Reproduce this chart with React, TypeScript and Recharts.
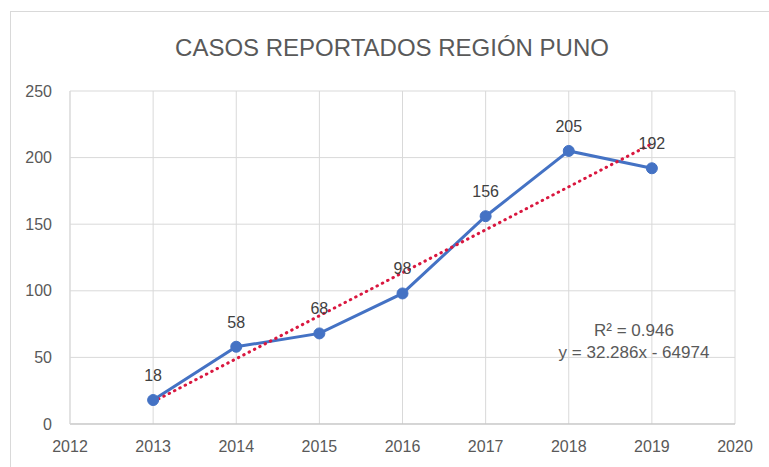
import React from "react";
import { LineChart, Line, XAxis, YAxis, CartesianGrid, LabelList } from "recharts";

const years = [2013, 2014, 2015, 2016, 2017, 2018, 2019];
const cases = [18, 58, 68, 98, 156, 205, 192];
// linear trendline values read at its two ends (2013 and 2019)
const trendYears = [2013, 2019];
const trendValues = [16.7, 210.4];
const xTicks = [2012, 2013, 2014, 2015, 2016, 2017, 2018, 2019, 2020];
const yTicks = [0, 50, 100, 150, 200, 250];
const title = "CASOS REPORTADOS REGIÓN PUNO";
const r2Text = "R² = 0.946";
const eqText = "y = 32.286x - 64974";

const data = years.map((year, i) => {
  const t = trendYears.indexOf(year);
  return { year, cases: cases[i], trend: t >= 0 ? trendValues[t] : null };
});

const FONT = "'Liberation Sans', Arial, sans-serif";
const TEXT = "#595959";

export default function App() {
  return (
    <div
      style={{
        position: "absolute",
        left: 0,
        top: 0,
        width: 769,
        height: 467,
        overflow: "hidden",
        background: "#ffffff",
        fontFamily: FONT,
      }}
    >
      <div
        style={{
          position: "absolute",
          left: 10,
          top: 11,
          width: 800,
          height: 500,
          border: "1px solid #d9d9d9",
          boxSizing: "border-box",
        }}
      />
      <div style={{ position: "absolute", left: 0, top: 0 }}>
        <LineChart
          width={769}
          height={467}
          data={data}
          margin={{ top: 91, right: 34, bottom: 13, left: 10 }}
        >
          <CartesianGrid stroke="#d9d9d9" strokeWidth={1} />
          <XAxis
            dataKey="year"
            type="number"
            domain={[2012, 2020]}
            ticks={xTicks}
            allowDataOverflow
            height={30}
            tickLine={false}
            tickSize={0}
            tickMargin={17}
            axisLine={{ stroke: "#bfbfbf", strokeWidth: 1 }}
            tick={{ fill: TEXT, fontSize: 16, fontFamily: FONT }}
          />
          <YAxis
            type="number"
            domain={[0, 250]}
            ticks={yTicks}
            width={60}
            tickLine={false}
            tickSize={0}
            tickMargin={18}
            axisLine={{ stroke: "#d9d9d9", strokeWidth: 1 }}
            tick={{ fill: TEXT, fontSize: 16, fontFamily: FONT }}
          />
          <Line
            dataKey="cases"
            stroke="#4472C4"
            strokeWidth={3}
            dot={{ r: 5.5, fill: "#4472C4", stroke: "#4472C4", strokeWidth: 1 }}
            activeDot={false}
            isAnimationActive={false}
          >
            <LabelList
              dataKey="cases"
              position="top"
              offset={19}
              fill="#404040"
              fontSize={16}
              fontFamily={FONT}
            />
          </Line>
          <Line
            dataKey="trend"
            connectNulls
            stroke="#D9173F"
            strokeWidth={3}
            strokeDasharray="0.5 5.5"
            strokeLinecap="round"
            dot={false}
            activeDot={false}
            isAnimationActive={false}
          />
        </LineChart>
      </div>
      <div
        style={{
          position: "absolute",
          left: 0,
          top: 35,
          width: 784,
          textAlign: "center",
          fontSize: 24,
          lineHeight: "26px",
          color: TEXT,
          whiteSpace: "nowrap",
        }}
      >
        {title}
      </div>
      <div
        style={{
          position: "absolute",
          left: 534,
          top: 320,
          width: 200,
          textAlign: "center",
          fontSize: 17,
          lineHeight: "22px",
          color: TEXT,
          whiteSpace: "nowrap",
        }}
      >
        <div>{r2Text}</div>
        <div>{eqText}</div>
      </div>
    </div>
  );
}
